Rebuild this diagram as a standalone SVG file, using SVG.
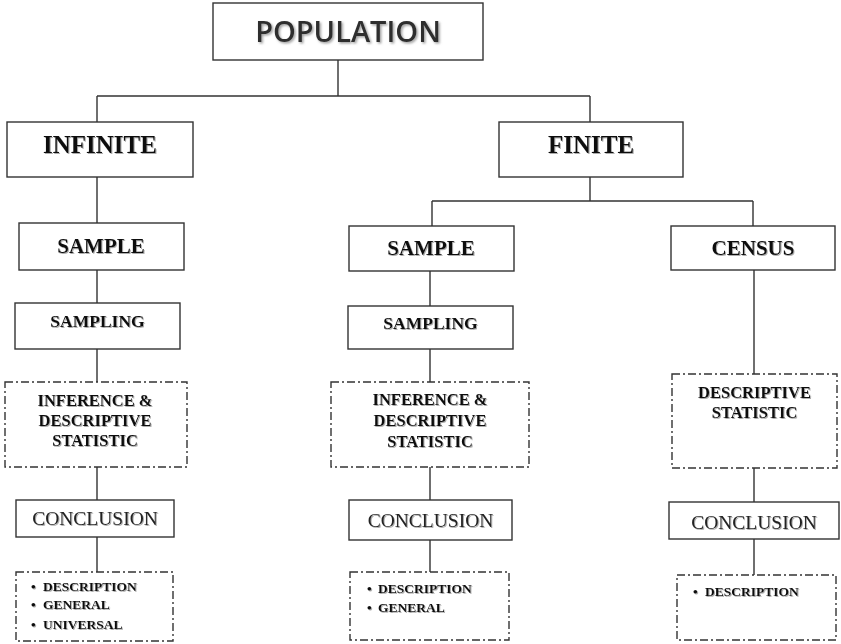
<svg xmlns="http://www.w3.org/2000/svg" width="841" height="644" viewBox="0 0 841 644">
<style>
.box{fill:#fff;stroke:#333;stroke-width:1.4}
.dash{fill:#fff;stroke:#333;stroke-width:1.4;stroke-dasharray:8 3 2 3}
.ln{fill:none;stroke:#333;stroke-width:1.4}
.t{font-family:"Liberation Serif",serif;font-weight:bold;fill:#111;text-anchor:middle;filter:url(#sh)}
.pop{font-family:"Open Sans","Liberation Sans",sans-serif;font-size:29px;font-weight:600;fill:#2e2e2e;text-anchor:middle;filter:url(#sh2)}
.big{font-size:25px}
.mid{font-size:21px}
.sm{font-size:17.5px}
.inf{font-size:16.5px}
.con{font-family:"Liberation Serif",serif;font-size:19.5px;fill:#222;text-anchor:middle;filter:url(#sh)}
.bl{font-family:"Liberation Serif",serif;font-weight:bold;font-size:13.5px;fill:#111;filter:url(#sh)}
</style>
<defs>
<filter id="sh" x="-10%" y="-30%" width="120%" height="160%">
<feDropShadow dx="1" dy="1" stdDeviation="0.7" flood-color="#777" flood-opacity="0.6"/>
</filter>
<filter id="sh2" x="-10%" y="-30%" width="120%" height="160%">
<feDropShadow dx="1.5" dy="1.5" stdDeviation="1" flood-color="#888" flood-opacity="0.8"/>
</filter>
</defs>
<g id="connectors">
<path class="ln" d="M338 60V96M97 96H590M97 96V122M590 96V122"/>
<path class="ln" d="M97 177V223M97 270V303M97 349V382M97 467V500M97 537V572"/>
<path class="ln" d="M590 177V201M432 201H753M432 201V226M753 201V226"/>
<path class="ln" d="M430 271V306M430 349V382M430 467V500M430 540V572"/>
<path class="ln" d="M754 270V374M754 468V502M754 539V575"/>
</g>
<g id="population"><rect class="box" x="213" y="3" width="270" height="57"/><text class="pop" x="348" y="42">POPULATION</text></g>
<g id="infinite"><rect class="box" x="7" y="122" width="186" height="55"/><text class="t big" x="100" y="153">INFINITE</text></g>
<g id="finite"><rect class="box" x="499" y="122" width="184" height="55"/><text class="t big" x="591" y="153">FINITE</text></g>
<g id="sample-left"><rect class="box" x="19" y="223" width="165" height="47"/><text class="t mid" x="101" y="253">SAMPLE</text></g>
<g id="sample-mid"><rect class="box" x="349" y="226" width="165" height="45"/><text class="t mid" x="431" y="255">SAMPLE</text></g>
<g id="census"><rect class="box" x="671" y="226" width="164" height="44"/><text class="t mid" x="753" y="255">CENSUS</text></g>
<g id="sampling-left"><rect class="box" x="15" y="303" width="165" height="46"/><text class="t sm" x="97.5" y="327">SAMPLING</text></g>
<g id="sampling-mid"><rect class="box" x="348" y="306" width="165" height="43"/><text class="t sm" x="430.5" y="329">SAMPLING</text></g>
<g id="inference-left"><rect class="dash" x="5" y="382" width="182" height="85"/>
<text class="t inf" x="95" y="406">INFERENCE &amp;</text><text class="t inf" x="95" y="426">DESCRIPTIVE</text><text class="t inf" x="95" y="446">STATISTIC</text></g>
<g id="inference-mid"><rect class="dash" x="331" y="382" width="198" height="85"/>
<text class="t inf" x="430" y="405">INFERENCE &amp;</text><text class="t inf" x="430" y="426">DESCRIPTIVE</text><text class="t inf" x="430" y="447">STATISTIC</text></g>
<g id="descriptive-right"><rect class="dash" x="672" y="374" width="165" height="94"/>
<text class="t inf" x="754.5" y="398">DESCRIPTIVE</text><text class="t inf" x="754.5" y="418">STATISTIC</text></g>
<g id="conclusion-left"><rect class="box" x="16" y="500" width="158" height="37"/><text class="con" x="95" y="525">CONCLUSION</text></g>
<g id="conclusion-mid"><rect class="box" x="349" y="500" width="163" height="40"/><text class="con" x="430.5" y="527">CONCLUSION</text></g>
<g id="conclusion-right"><rect class="box" x="669" y="502" width="170" height="37"/><text class="con" x="754" y="529">CONCLUSION</text></g>
<g id="bullets-left"><rect class="dash" x="16" y="572" width="157" height="69"/>
<text class="bl" y="591"><tspan x="31">•</tspan><tspan x="43">DESCRIPTION</tspan></text>
<text class="bl" y="609"><tspan x="31">•</tspan><tspan x="43">GENERAL</tspan></text>
<text class="bl" y="629"><tspan x="31">•</tspan><tspan x="43">UNIVERSAL</tspan></text></g>
<g id="bullets-mid"><rect class="dash" x="350" y="572" width="159" height="68"/>
<text class="bl" y="593"><tspan x="367">•</tspan><tspan x="378">DESCRIPTION</tspan></text>
<text class="bl" y="612"><tspan x="367">•</tspan><tspan x="378">GENERAL</tspan></text></g>
<g id="bullets-right"><rect class="dash" x="677" y="575" width="159" height="65"/>
<text class="bl" y="596"><tspan x="693">•</tspan><tspan x="705">DESCRIPTION</tspan></text></g>
</svg>
